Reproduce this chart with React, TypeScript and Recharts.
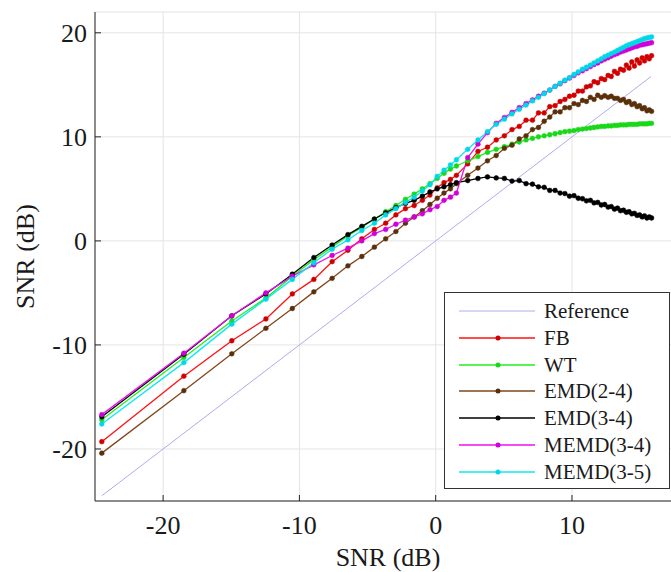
import { CartesianGrid, Line, LineChart, XAxis, YAxis } from 'recharts'

// input SNR (dB) of each measured point
const snrIn = [
  -24.5, -18.48, -14.96, -12.46, -10.52, -8.94, -7.6, -6.44, -5.42, -4.5, -3.67, -2.92, -2.22, -1.58, -0.98, -0.42, 0.11, 0.61, 1.08, 1.52,
  2.35, 3.1, 3.8, 4.44, 5.04, 5.6, 6.13, 6.63, 7.1, 7.54,
  7.96, 8.37, 8.76, 9.13, 9.48, 9.82, 10.15, 10.46, 10.77, 11.06,
  11.35, 11.62, 11.89, 12.15, 12.4, 12.65, 12.88, 13.12, 13.34, 13.56,
  13.78, 13.99, 14.19, 14.39, 14.58, 14.78, 14.96, 15.15, 15.32, 15.5,
  15.67, 15.84
]

const fb = [
  -19.3, -13.0, -9.6, -7.5, -5.1, -3.7, -2.0, -0.9, 0.2, 1.1, 1.7, 2.5, 3.1, 3.4, 3.9, 4.4, 5.1, 5.6, 5.9, 6.3,
  7.4, 8.6, 9.0, 9.7, 10.1, 10.7, 11.0, 11.6, 11.6, 12.3,
  12.3, 12.9, 13.0, 13.4, 13.6, 13.9, 14.0, 14.4, 14.4, 14.8,
  14.9, 15.3, 15.2, 15.6, 15.5, 15.9, 15.8, 16.3, 16.1, 16.5,
  16.4, 16.9, 16.6, 17.2, 16.8, 17.4, 17.1, 17.6, 17.3, 17.7,
  17.5, 17.8
]

const wt = [
  -17.2, -11.2, -7.7, -5.5, -3.4, -1.8, -0.6, 0.5, 1.3, 2.1, 2.8, 3.4, 4.0, 4.5, 5.0, 5.5, 6.0, 6.5, 6.9, 7.2,
  7.7, 8.1, 8.5, 8.8, 9.05, 9.3, 9.5, 9.7, 9.85, 10.0,
  10.1, 10.2, 10.3, 10.4, 10.5, 10.55, 10.6, 10.7, 10.75, 10.8,
  10.85, 10.9, 10.95, 11.0, 11.0, 11.05, 11.05, 11.1, 11.1, 11.15,
  11.15, 11.15, 11.2, 11.2, 11.2, 11.2, 11.25, 11.25, 11.25, 11.25,
  11.3, 11.3
]

const emd24 = [
  -20.4, -14.4, -10.85, -8.4, -6.5, -4.9, -3.6, -2.4, -1.5, -0.6, 0.2, 0.9, 1.7, 2.3, 2.9, 3.5, 4.1, 4.6, 5.0, 5.5,
  6.3, 7.0, 7.7, 8.2, 8.9, 9.2, 9.8, 10.1, 10.7, 10.9,
  11.5, 11.9, 12.4, 12.4, 12.8, 12.8, 13.2, 13.1, 13.5, 13.4,
  13.8, 13.6, 14.0, 13.8, 13.95, 13.8, 13.9, 13.7, 13.7, 13.5,
  13.6, 13.3, 13.4, 13.1, 13.2, 12.9, 13.0, 12.7, 12.8, 12.5,
  12.6, 12.45
]

const emd34 = [
  -16.9, -10.9, -7.2, -5.1, -3.2, -1.6, -0.4, 0.6, 1.4, 2.1, 2.7, 3.2, 3.6, 3.9, 4.3, 4.7, 5.0, 5.2, 5.4, 5.6,
  5.8, 6.0, 6.15, 6.05, 6.0, 5.75, 5.8, 5.5, 5.45, 5.2,
  5.15, 4.85, 4.85, 4.6, 4.55, 4.3, 4.35, 4.1, 4.05, 3.85,
  3.9, 3.65, 3.7, 3.45, 3.5, 3.25, 3.3, 3.05, 3.15, 2.9,
  2.95, 2.75, 2.8, 2.6, 2.65, 2.45, 2.5, 2.3, 2.4, 2.2,
  2.3, 2.2
]

const memd34 = [
  -16.7, -10.8, -7.2, -5.0, -3.4, -2.3, -1.4, -0.7, 0.0, 0.7, 1.1, 1.6, 2.0, 2.3, 2.6, 3.0, 3.3, 3.9, 4.2, 4.6,
  8.0, 9.3, 10.4, 11.3, 11.85, 12.35, 12.8, 13.2, 13.55, 13.9,
  14.2, 14.5, 14.85, 15.1, 15.4, 15.65, 15.9, 16.15, 16.35, 16.55,
  16.75, 16.95, 17.1, 17.3, 17.45, 17.6, 17.75, 17.9, 18.0, 18.15,
  18.25, 18.35, 18.45, 18.55, 18.65, 18.7, 18.8, 18.85, 18.9, 18.95,
  19.0, 19.05
]

const memd35 = [
  -17.6, -11.7, -8.0, -5.6, -3.7, -2.1, -0.8, 0.1, 1.0, 1.7, 2.5, 3.1, 3.7, 4.2, 4.8, 5.4, 6.2, 6.8, 7.3, 7.8,
  8.8, 9.7, 10.5, 11.2, 11.7, 12.2, 12.65, 13.05, 13.45, 13.8,
  14.15, 14.5, 14.85, 15.15, 15.45, 15.7, 16.0, 16.25, 16.5, 16.7,
  16.9, 17.1, 17.3, 17.5, 17.7, 17.85, 18.0, 18.15, 18.3, 18.45,
  18.6, 18.75, 18.85, 18.95, 19.05, 19.15, 19.25, 19.35, 19.45, 19.5,
  19.55, 19.6
]

// identity reference line (output = input)
const refX = [-24.5, 15.8]
const refY = [-24.5, 15.8]

const xTicks = [-20, -10, 0, 10]
const yTicks = [-20, -10, 0, 10, 20]

const FONT = '"Liberation Serif", "Times New Roman", serif'
const AX = '#262626'
const TXT = '#1a1a1a'
const REF_COLOR = '#acacee'

const series = [
  { key: 'fb', name: 'FB', color: '#ff1010', dot: '#d00000', values: fb },
  { key: 'wt', name: 'WT', color: '#22ee22', dot: '#18d818', values: wt },
  { key: 'emd24', name: 'EMD(2-4)', color: '#80471a', dot: '#5a300c', values: emd24 },
  { key: 'emd34', name: 'EMD(3-4)', color: '#000000', dot: '#000000', values: emd34 },
  { key: 'memd34', name: 'MEMD(3-4)', color: '#ee10ee', dot: '#d000d8', values: memd34 },
  { key: 'memd35', name: 'MEMD(3-5)', color: '#10e8f0', dot: '#00d8e8', values: memd35 }
]

const rows = snrIn.map((x, i) => {
  const r: Record<string, number> = { x }
  series.forEach((s) => (r[s.key] = s.values[i]))
  return r
})
const refRows = refX.map((x, i) => ({ x, ref: refY[i] }))

const XTick = (p: any) => (
  <g>
    <line x1={p.x} x2={p.x} y1={p.y - 15} y2={p.y - 21} stroke={AX} />
    <text x={p.x} y={p.y} dy="0.71em" textAnchor="middle" fontSize={26} fontFamily={FONT} fill={TXT}>
      {p.payload.value}
    </text>
  </g>
)

const TopTick = (p: any) => <line x1={p.x} x2={p.x} y1={p.y} y2={p.y + 5} stroke={AX} />

const YTick = (p: any) => (
  <g>
    <line x1={p.x + 8} x2={p.x + 14} y1={p.y} y2={p.y} stroke={AX} />
    <text x={p.x} y={p.y} dy="0.355em" textAnchor="end" fontSize={26} fontFamily={FONT} fill={TXT}>
      {p.payload.value}
    </text>
  </g>
)

const XLabel = (p: any) => (
  <text x={p.viewBox.x + p.viewBox.width / 2} y={p.viewBox.y + 65} textAnchor="middle" fontSize={26} fontFamily={FONT} fill={TXT}>
    SNR (dB)
  </text>
)

const YLabel = (p: any) => {
  const cx = p.viewBox.x + 34
  const cy = p.viewBox.y + p.viewBox.height / 2
  return (
    <text x={cx} y={cy} transform={`rotate(-90 ${cx} ${cy})`} textAnchor="middle" fontSize={26} fontFamily={FONT} fill={TXT}>
      SNR (dB)
    </text>
  )
}

function LegendBox() {
  const items = [{ name: 'Reference', color: REF_COLOR, dot: '' }, ...series]
  return (
    <div
      style={{
        position: 'absolute',
        left: 444,
        top: 292,
        width: 224,
        height: 195,
        border: '1px solid #333',
        background: '#fff',
        fontFamily: FONT,
        fontSize: 21,
        color: TXT
      }}
    >
      {items.map((it, i) => (
        <div key={it.name} style={{ position: 'absolute', left: 0, top: 5 + i * 26.8, height: 26, width: 224 }}>
          <svg width={80} height={26} style={{ position: 'absolute', left: 13, top: 0 }}>
            <line x1={1} x2={77} y1={13} y2={13} stroke={it.color} strokeWidth={it.dot ? 1.5 : 1} />
            {it.dot && <circle cx={40} cy={13} r={2.5} fill={it.dot} />}
          </svg>
          <span style={{ position: 'absolute', left: 99, top: 0, lineHeight: '26px', whiteSpace: 'nowrap' }}>{it.name}</span>
        </div>
      ))}
    </div>
  )
}

export default function App() {
  return (
    <div style={{ position: 'fixed', left: 0, top: 0, width: 671, height: 572, overflow: 'hidden', background: '#fff' }}>
      <LineChart width={690} height={572} data={rows} margin={{ top: 12, right: 9, bottom: 0, left: 0 }}>
        <CartesianGrid stroke="#e4e4e4" strokeWidth={1} />
        <XAxis
          type="number"
          dataKey="x"
          domain={[-25, 18]}
          ticks={xTicks}
          interval={0}
          allowDataOverflow
          height={71}
          tickSize={0}
          tickMargin={15}
          tickLine={false}
          axisLine={{ stroke: AX, strokeWidth: 1 }}
          tick={XTick}
          label={{ content: XLabel }}
        />
        <XAxis
          xAxisId="top"
          orientation="top"
          type="number"
          dataKey="x"
          domain={[-25, 18]}
          ticks={xTicks}
          interval={0}
          allowDataOverflow
          height={0}
          tickSize={0}
          tickMargin={0}
          tickLine={false}
          axisLine={{ stroke: AX, strokeWidth: 1 }}
          tick={TopTick}
        />
        <YAxis
          type="number"
          domain={[-25, 22]}
          ticks={yTicks}
          interval={0}
          allowDataOverflow
          width={95}
          tickSize={0}
          tickMargin={8}
          tickLine={false}
          axisLine={{ stroke: AX, strokeWidth: 1 }}
          tick={YTick}
          label={{ content: YLabel }}
        />
        <Line
          data={refRows}
          dataKey="ref"
          stroke={REF_COLOR}
          strokeWidth={1}
          dot={false}
          activeDot={false}
          isAnimationActive={false}
        />
        {series.map((s) => (
          <Line
            key={s.key}
            dataKey={s.key}
            stroke={s.color}
            strokeWidth={1.3}
            dot={{ r: 2.4, fill: s.dot, stroke: s.dot, strokeWidth: 0.5 }}
            activeDot={false}
            isAnimationActive={false}
          />
        ))}
      </LineChart>
      <LegendBox />
    </div>
  )
}
